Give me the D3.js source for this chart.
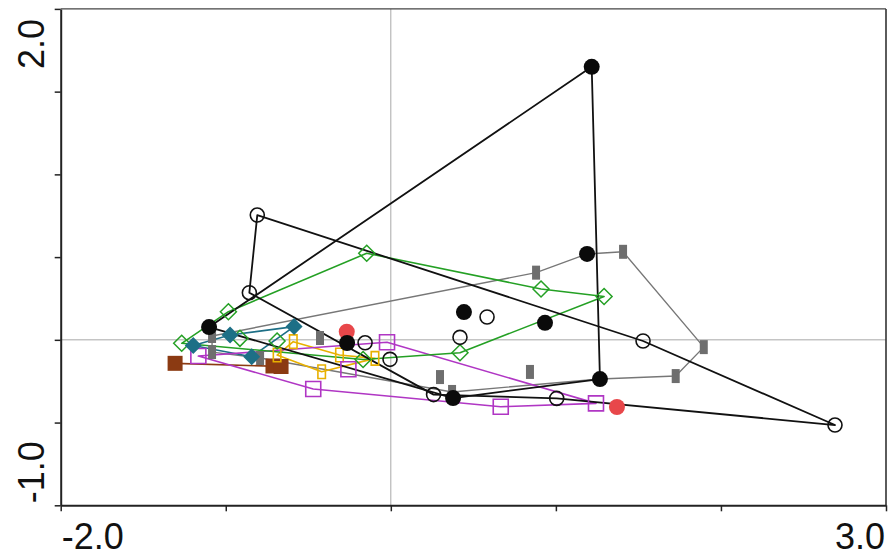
<!DOCTYPE html>
<html>
<head>
<meta charset="utf-8">
<script src="https://cdn.jsdelivr.net/npm/d3@7"></script>
<style>
  html, body { margin: 0; padding: 0; background: #fff; }
  text { font-family: "Liberation Sans", Arial, sans-serif; }
</style>
</head>
<body>
<svg id="chart" width="890" height="556"></svg>
<script>
// Axis ticks and end labels
const xTicks = [-2, -1, 0, 1, 2, 3];
const yTicks = [-1, -0.5, 0, 0.5, 1, 1.5, 2];
const xEndLabels = [[-2, "-2.0"], [3, "3.0"]];
const yEndLabels = [[2, "2.0"], [-1, "-1.0"]];

// Ordination scores per group; the *Path arrays give the outline order (indices)
const blackFilled = [[-1.101, 0.077], [1.217, 1.650], [1.189, 0.519], [1.267, -0.237],
                     [0.377, -0.352], [-0.265, -0.019], [0.443, 0.168], [0.934, 0.103]];
const blackFilledPath = [0, 1, 3, 4];

const openCircles = [[-0.809, 0.754], [-0.857, 0.285], [0.259, -0.331], [1.005, -0.354],
                     [2.691, -0.515], [1.528, -0.007], [-0.156, -0.018], [-0.005, -0.118],
                     [0.419, 0.015], [0.583, 0.138]];
const openCirclesPath = [0, 1, 2, 3, 4, 5];

const greyRects = [[-1.083, 0.023], [-1.083, -0.074], [-0.792, -0.110], [-0.429, 0.011],
                   [0.298, -0.225], [0.371, -0.315], [0.843, -0.194], [0.880, 0.406],
                   [1.407, 0.532], [1.896, -0.044], [1.726, -0.219]];
// the grey outline also runs through two shared scores
const greyOutline = [[-1.083, 0.023], [0.880, 0.406], [1.189, 0.519], [1.407, 0.532],
                     [1.896, -0.044], [1.726, -0.219], [1.267, -0.237], [0.371, -0.315],
                     [-0.792, -0.110], [-1.083, -0.074]];

const greenDiamonds = [[-1.267, -0.021], [-0.984, 0.170], [-0.146, 0.523], [0.910, 0.307],
                       [1.292, 0.262], [0.419, -0.078], [-0.168, -0.119], [-0.914, 0.009],
                       [-0.689, -0.007]];
const greenPath = [0, 1, 2, 3, 4, 5, 6];

const tealDiamonds = [[-1.197, -0.034], [-0.974, 0.029], [-0.586, 0.080], [-0.843, -0.102]];
const tealPath = [0, 1, 2, 3];

const orangeRects = [[-0.689, -0.092], [-0.591, -0.011], [-0.311, -0.092], [-0.096, -0.112],
                     [-0.419, -0.193]];
const orangePath = [0, 1, 2, 3, 4];

const purpleSquares = [[-1.166, -0.098], [-0.023, -0.015], [1.243, -0.384], [0.666, -0.404],
                       [-0.470, -0.297], [-0.257, -0.178]];
const purplePath = [0, 1, 2, 3, 4];

const brownSquares = [[-1.307, -0.142], [-0.714, -0.158], [-0.665, -0.161]];
const brownPath = [0, 2];

const redCircles = [[-0.267, 0.049], [1.370, -0.406]];

const svg = d3.select("#chart");
const x = d3.scaleLinear().domain([-2, 3]).range([60.7, 886]);
const y = d3.scaleLinear().domain([-1, 2]).range([505.3, 8.9]);

// zero reference lines
svg.append("line").attr("x1", x(-2)).attr("x2", x(3)).attr("y1", y(0)).attr("y2", y(0))
  .attr("stroke", "#a8a8a8").attr("stroke-width", 1);
svg.append("line").attr("x1", x(0)).attr("x2", x(0)).attr("y1", y(-1)).attr("y2", y(2))
  .attr("stroke", "#a8a8a8").attr("stroke-width", 1);

// frame
svg.append("line").attr("x1", x(-2)).attr("x2", x(3)).attr("y1", y(2)).attr("y2", y(2))
  .attr("stroke", "#444").attr("stroke-width", 1.3);
svg.append("line").attr("x1", x(3)).attr("x2", x(3)).attr("y1", y(-1)).attr("y2", y(2))
  .attr("stroke", "#333").attr("stroke-width", 1.6);

// axes
const xAxis = svg.append("g").attr("transform", `translate(0,${y(-1)})`)
  .call(d3.axisBottom(x).tickValues(xTicks).tickFormat("").tickSize(6).tickSizeOuter(0));
const yAxis = svg.append("g").attr("transform", `translate(${x(-2)},0)`)
  .call(d3.axisLeft(y).tickValues(yTicks).tickFormat("").tickSize(6).tickSizeOuter(0));
[xAxis, yAxis].forEach(a => {
  a.select(".domain").attr("stroke", "#222").attr("stroke-width", 2);
  a.selectAll(".tick line").attr("stroke", "#222").attr("stroke-width", 1.5);
});

// end labels
svg.selectAll(".xlab").data(xEndLabels).enter().append("text")
  .attr("x", d => x(d[0]) + (d[0] === -2 ? 1 : -1))
  .attr("y", 549)
  .attr("text-anchor", d => d[0] === -2 ? "start" : "end")
  .attr("font-size", 36).attr("fill", "#111")
  .text(d => d[1]);
svg.selectAll(".ylab").data(yEndLabels).enter().append("text")
  .attr("transform", d => `translate(44,${d[0] === 2 ? y(d[0]) + 10 : y(d[0]) - 2}) rotate(-90)`)
  .attr("text-anchor", d => d[0] === 2 ? "end" : "start")
  .attr("font-size", 36).attr("fill", "#111")
  .text(d => d[1]);

// outlines
const line = d3.line().x(d => x(d[0])).y(d => y(d[1])).curve(d3.curveLinearClosed);
function outline(pts, color, width) {
  svg.append("path").attr("d", line(pts)).attr("fill", "none")
    .attr("stroke", color).attr("stroke-width", width).attr("stroke-linejoin", "round");
}
outline(greyOutline, "#777", 1.4);
outline(brownPath.map(i => brownSquares[i]), "#8b3a12", 1.6);
outline(orangePath.map(i => orangeRects[i]), "#e8b000", 1.6);
outline(tealPath.map(i => tealDiamonds[i]), "#1d6f86", 1.6);
outline(purplePath.map(i => purpleSquares[i]), "#b036c4", 1.6);
outline(greenPath.map(i => greenDiamonds[i]), "#24a024", 1.6);
outline(openCirclesPath.map(i => openCircles[i]), "#111", 1.8);
outline(blackFilledPath.map(i => blackFilled[i]), "#111", 1.8);

// markers
function markers(pts, shape, attrs) {
  const g = svg.append("g");
  const sel = g.selectAll("path").data(pts).enter().append("path")
    .attr("transform", d => `translate(${x(d[0])},${y(d[1])})`)
    .attr("d", shape);
  Object.entries(attrs).forEach(([k, v]) => sel.attr(k, v));
}
const circle = r => `M${-r},0A${r},${r} 0 1,0 ${r},0A${r},${r} 0 1,0 ${-r},0Z`;
const rect = (w, h) => `M${-w / 2},${-h / 2}h${w}v${h}h${-w}Z`;
const diamond = s => `M0,${-s}L${s},0L0,${s}L${-s},0Z`;

markers(redCircles, circle(8), { fill: "#e8474a" });
markers(brownSquares, rect(15, 15), { fill: "#8b3a12" });
markers(greyRects, rect(8, 14), { fill: "#6e6e6e" });
markers(orangeRects, rect(7.5, 13.5), { fill: "none", stroke: "#e8b000", "stroke-width": 1.6 });
markers(purpleSquares, rect(15, 15), { fill: "none", stroke: "#b036c4", "stroke-width": 1.6 });
markers(greenDiamonds, diamond(8), { fill: "none", stroke: "#24a024", "stroke-width": 1.5 });
markers(tealDiamonds, diamond(8.5), { fill: "#1d6f86" });
markers(openCircles, circle(7), { fill: "none", stroke: "#111", "stroke-width": 1.6 });
markers(blackFilled, circle(8), { fill: "#0a0a0a" });
</script>
</body>
</html>
